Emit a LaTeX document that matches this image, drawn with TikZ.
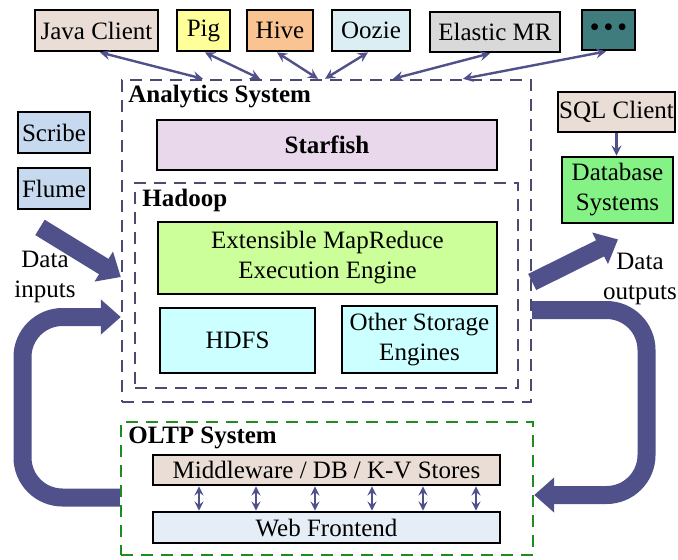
\documentclass[tikz,border=0pt]{standalone}
\usepackage{fontspec}
\setmainfont{Liberation Serif}
\usetikzlibrary{arrows.meta,calc}
\definecolor{flow}{HTML}{50508A}
\definecolor{groupline}{HTML}{4A4A72}
\definecolor{oltpline}{HTML}{1E8C1E}
\definecolor{beige}{HTML}{EADDD6}
\definecolor{pigfill}{HTML}{FFFF99}
\definecolor{hivefill}{HTML}{FAC392}
\definecolor{ooziefill}{HTML}{DAEEF3}
\definecolor{emrfill}{HTML}{D9D9D9}
\definecolor{dotsfill}{HTML}{3F7C7E}
\definecolor{ingest}{HTML}{C6D9EE}
\definecolor{starfill}{HTML}{E9D8EC}
\definecolor{mrfill}{HTML}{CCFF99}
\definecolor{storefill}{HTML}{CCFFFF}
\definecolor{dbfill}{HTML}{85F285}
\definecolor{webfill}{HTML}{E5EDF7}
\begin{document}
\begin{tikzpicture}[
        >=stealth,
        x=0.5pt,y=-0.5pt,
        font=\fontsize{12.5}{15}\selectfont,
        box/.style={draw=black,line width=1.4pt,inner sep=0pt,align=center},
        group/.style={draw=groupline,dash pattern=on 6pt off 4pt,line width=1.2pt,inner sep=0pt},
        title/.style={font=\fontsize{12.5}{15}\selectfont\bfseries,anchor=base west,inner sep=0pt},
        link/.style={<->,draw=flow,line width=1.2pt},
        bigarrow/.style={draw=flow,line width=9pt,-{Triangle[length=10pt,width=17pt]}},
        ]
        \useasboundingbox (0,0) rectangle (678,559);
        % clients on top
        \node[box,fill=beige,minimum width=61.5pt,minimum height=20.5pt] (java) at (96.5,30.5) {Java Client};
        \node[box,fill=pigfill,minimum width=26.5pt,minimum height=20.5pt] (pig) at (203.5,30.5) {Pig};
        \node[box,fill=hivefill,minimum width=33pt,minimum height=20.5pt] (hive) at (280,30.5) {Hive};
        \node[box,fill=ooziefill,minimum width=39pt,minimum height=20.5pt] (oozie) at (371,30.5) {Oozie};
        \node[box,fill=emrfill,minimum width=65pt,minimum height=20pt] (emr) at (495,32) {Elastic MR};
        \node[box,fill=dotsfill,minimum width=26.5pt,minimum height=20pt] (dots) at (608.5,30) {\textbf{•\hspace{2.5pt}•\hspace{2.5pt}•}};
        % analytics system
        \node[group,minimum width=204.5pt,minimum height=161pt] (ana) at (326.5,241) {};
        \node[title] at (128,102) {Analytics System};
        \node[box,fill=starfill,minimum width=170pt,minimum height=25pt,font=\fontsize{12.5}{15}\selectfont\bfseries] (star) at (327,145) {Starfish};
        \node[group,minimum width=191.5pt,minimum height=102.5pt] (hadoop) at (326.5,285.5) {};
        \node[title] at (142,206) {Hadoop};
        \node[box,fill=mrfill,minimum width=169.5pt,minimum height=36pt] (mr) at (327.5,258) {Extensible MapReduce\\Execution Engine};
        \node[box,fill=storefill,minimum width=77.5pt,minimum height=32.5pt] (hdfs) at (237.5,340.5) {HDFS};
        \node[box,fill=storefill,minimum width=77.5pt,minimum height=33.5pt] (other) at (419.5,339.5) {Other Storage\\Engines};
        % oltp system
        \node[group,draw=oltpline,minimum width=206pt,minimum height=66.5pt] (oltp) at (327,488.5) {};
        \node[title] at (128,443) {OLTP System};
        \node[box,fill=beige,minimum width=173.5pt,minimum height=15pt] (mw) at (326.5,470) {Middleware / DB / K-V Stores};
        \node[box,fill=webfill,minimum width=173.5pt,minimum height=15.5pt] (web) at (326.5,527.5) {Web Frontend};
        % inputs and outputs
        \node[box,fill=ingest,minimum width=36pt,minimum height=20.5pt] (scribe) at (54,132.5) {Scribe};
        \node[box,fill=ingest,minimum width=36pt,minimum height=20.5pt] (flume) at (54,188.5) {Flume};
        \node[box,fill=beige,minimum width=58.5pt,minimum height=20pt] (sql) at (616.5,112) {SQL Client};
        \node[box,fill=dbfill,minimum width=55.5pt,minimum height=33pt] (db) at (617.5,190) {Database\\Systems};
        \node[align=center,inner sep=0pt] (inlabel) at (45,277) {Data\\inputs};
        \node[align=center,inner sep=0pt] (outlabel) at (640,279) {Data\\outputs};

        \draw[link] ($(java.south)+(3.5,0)$) -- ($(ana.north)+(-123.5,0)$);
        \draw[link] ($(pig.south)+(1.5,0)$) -- ($(ana.north)+(-66.5,0)$);
        \draw[link] ($(hive.south)+(-3,0)$) -- ($(ana.north)+(-8.5,0)$);
        \draw[link] ($(oozie.south)+(-3,0)$) -- ($(ana.north)+(-1.5,0)$);
        \draw[link] ($(emr.south)+(-5,0)$) -- ($(ana.north)+(66.5,0)$);
        \draw[link] ($(dots.south)+(-2.5,0)$) -- ($(ana.north)+(136.5,0)$);
        \draw[->,draw=flow,line width=1.2pt] (sql.south) -- (sql.south |- db.north);
        \foreach \dx in {-127.5,-70.5,-11.5,45.5,96.5,149.5}
            \draw[link,line width=1pt] ($(mw.south)+(\dx,0)$) -- ($(web.north)+(\dx,0)$);

        % big flow arrows
        \draw[bigarrow] ($(flume.south)+(-14,17)$) -- ($(ana.west)+(0,36)$);
        \draw[bigarrow,rounded corners=20pt] ($(oltp.west)+(0,9)$) -| (22.5,317) -- ($(ana.west)+(0,76)$);
        \draw[bigarrow] ($(ana.east)+(0,41)$) -- ($(db.south)+(0.5,15)$);
        \draw[bigarrow,rounded corners=20pt] ($(ana.east)+(0,69)$) -| (646.5,495) -- ($(oltp.east)+(0,6.5)$);
\end{tikzpicture}
\end{document}
